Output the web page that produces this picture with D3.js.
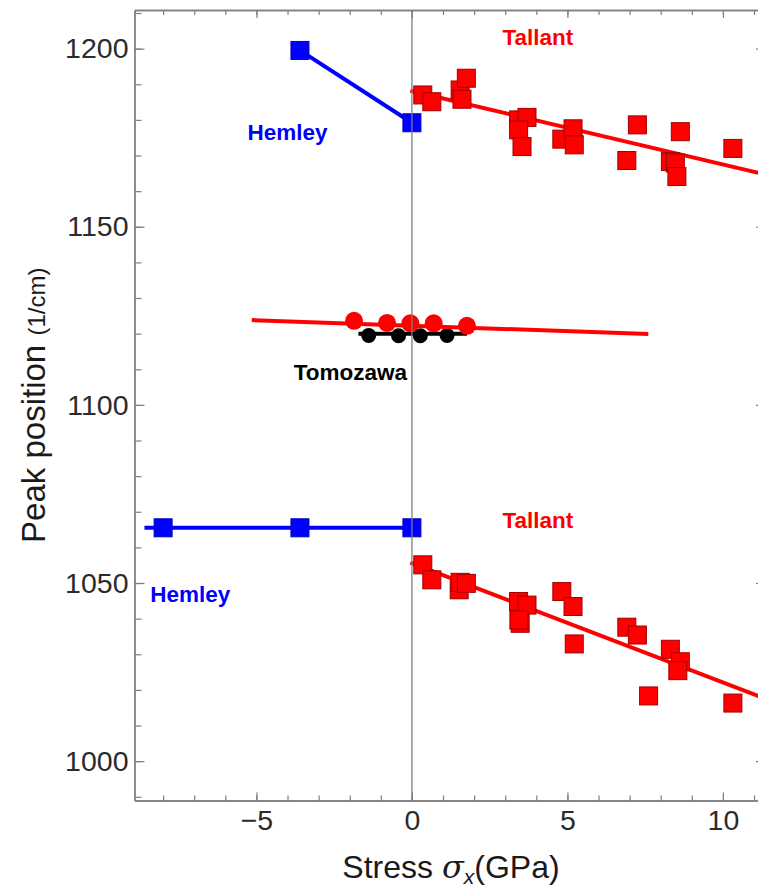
<!DOCTYPE html>
<html>
<head>
<meta charset="utf-8">
<script src="https://cdn.jsdelivr.net/npm/d3@7"></script>
<style>
  body { margin: 0; background: #fff; overflow: hidden; }
  text { font-family: "Liberation Sans", Arial, sans-serif; }
</style>
</head>
<body>
<div id="chart"></div>
<script>
// ---- data (stress in GPa, peak in 1/cm) ----
var hemleyHiX = [-3.6, 0];
var hemleyHiY = [1199.5, 1179.2];
var hemleyLoX = [-8.0, -3.6, 0];
var hemleyLoY = [1065.5, 1065.5, 1065.5];
var hemleyLoLineX = [-8.6, 0];
var hemleyLoLineY = [1065.5, 1065.5];

var tallantHiX = [0.35, 0.64, 1.55, 1.75, 1.61, 3.43, 3.70, 3.43, 3.54, 4.82, 5.18, 5.22, 7.25, 6.91, 8.63, 8.31, 8.47, 8.52, 10.32];
var tallantHiY = [1187.0, 1185.1, 1188.4, 1191.7, 1185.8, 1180.0, 1180.7, 1177.2, 1172.5, 1174.6, 1177.5, 1173.0, 1178.6, 1168.6, 1176.7, 1168.3, 1167.9, 1164.1, 1172.0];
var tallantHiFitX = [-0.05, 11.2];
var tallantHiFitY = [1188.2, 1165.0];

var tallantLoX = [0.35, 0.64, 1.52, 1.55, 1.75, 3.43, 3.70, 3.48, 3.44, 4.82, 5.18, 5.22, 6.91, 7.25, 8.31, 8.63, 8.55, 7.61, 10.32];
var tallantLoY = [1055.1, 1050.9, 1048.1, 1050.2, 1049.9, 1044.8, 1043.8, 1038.7, 1039.6, 1047.6, 1043.4, 1032.9, 1037.6, 1035.4, 1031.4, 1027.9, 1025.4, 1018.3, 1016.3];
var tallantLoFitX = [-0.05, 11.2];
var tallantLoFitY = [1055.7, 1018.1];

var tomoRedX = [-1.86, -0.80, -0.05, 0.70, 1.77];
var tomoRedY = [1123.6, 1123.0, 1122.9, 1122.9, 1122.2];
var tomoRedFitX = [-5.15, 7.6];
var tomoRedFitY = [1123.8, 1119.9];
var tomoBlackX = [-1.39, -0.43, 0.27, 1.13];
var tomoBlackY = [1119.5, 1119.4, 1119.4, 1119.5];
var tomoBlackFitX = [-1.72, 1.77];
var tomoBlackFitY = [1120.0, 1120.0];

var xTicks = [-5, 0, 5, 10];
var yTicks = [1000, 1050, 1100, 1150, 1200];

var labelText = ["Hemley", "Tallant", "Tomozawa", "Tallant", "Hemley"];
var labelX = [-4.0, 4.05, -1.98, 4.05, -7.13];
var labelY = [1176.6, 1203.2, 1109.3, 1067.7, 1046.9];
var labelColor = ["#0000ff", "#ff0000", "#000000", "#ff0000", "#0000ff"];

// ---- layout ----
var width = 758, height = 888;
// right frame edge falls just outside the picture, as in the original crop
var plotL = 134.5, plotR = 766, plotT = 10, plotB = 800.5;

var svg = d3.select("#chart").append("svg")
    .attr("width", width)
    .attr("height", height);

var x = d3.scaleLinear().domain([-8.92, 11.385]).range([plotL, plotR]);
var y = d3.scaleLinear().domain([988.95, 1210.85]).range([plotB, plotT]);

var frameColor = "#7f7f7f";

// minor ticks (every 1 GPa / 10 1/cm), no labels
var xMinor = d3.range(-8, 12, 1);
var yMinor = d3.range(990, 1211, 10);

function tickLayer(axis, tr) {
  var g = svg.append("g").attr("transform", tr).call(axis);
  g.select(".domain").attr("stroke", frameColor).attr("stroke-width", 1.3);
  g.selectAll(".tick line").attr("stroke", frameColor).attr("stroke-width", 1.2);
  g.selectAll("text").attr("fill", "#2b2b2b").attr("font-size", 28.5)
    .attr("font-family", "'Liberation Sans', Arial, sans-serif");
  return g;
}

// bottom
tickLayer(d3.axisBottom(x).tickValues(xMinor).tickSize(-5).tickSizeOuter(0).tickFormat(""), "translate(0," + plotB + ")");
tickLayer(d3.axisBottom(x).tickValues(xTicks).tickSize(-8).tickSizeOuter(0).tickPadding(9)
  .tickFormat(function(d) { return d < 0 ? "\u2212" + (-d) : d; }), "translate(0," + plotB + ")");
// top
tickLayer(d3.axisTop(x).tickValues(xMinor).tickSize(-5).tickSizeOuter(0).tickFormat(""), "translate(0," + plotT + ")");
tickLayer(d3.axisTop(x).tickValues(xTicks).tickSize(-8).tickSizeOuter(0).tickFormat(""), "translate(0," + plotT + ")");
// left
tickLayer(d3.axisLeft(y).tickValues(yMinor).tickSize(-7).tickSizeOuter(0).tickFormat(""), "translate(" + plotL + ",0)");
tickLayer(d3.axisLeft(y).tickValues(yTicks).tickSize(-10).tickSizeOuter(0).tickPadding(6).tickFormat(d3.format("d")), "translate(" + plotL + ",0)");
// right
tickLayer(d3.axisRight(y).tickValues(yMinor).tickSize(-7).tickSizeOuter(0).tickFormat(""), "translate(" + plotR + ",0)");
tickLayer(d3.axisRight(y).tickValues(yTicks).tickSize(-10).tickSizeOuter(0).tickFormat(""), "translate(" + plotR + ",0)");

var line = d3.line().x(function(d) { return x(d[0]); }).y(function(d) { return y(d[1]); });

function drawLine(xs, ys, color, w) {
  svg.append("path")
    .datum(d3.zip(xs, ys))
    .attr("d", line)
    .attr("fill", "none")
    .attr("stroke", color)
    .attr("stroke-width", w);
}

function drawSquares(xs, ys, fill, stroke, s) {
  svg.append("g").selectAll("rect")
    .data(d3.zip(xs, ys))
    .enter().append("rect")
      .attr("x", function(d) { return x(d[0]) - s / 2; })
      .attr("y", function(d) { return y(d[1]) - s / 2; })
      .attr("width", s)
      .attr("height", s)
      .attr("fill", fill)
      .attr("stroke", stroke)
      .attr("stroke-width", 1);
}

function drawDots(xs, ys, fill, r) {
  svg.append("g").selectAll("circle")
    .data(d3.zip(xs, ys))
    .enter().append("circle")
      .attr("cx", function(d) { return x(d[0]); })
      .attr("cy", function(d) { return y(d[1]); })
      .attr("r", r)
      .attr("fill", fill);
}

// Hemley
drawLine(hemleyHiX, hemleyHiY, "#0000ff", 4);
drawSquares(hemleyHiX, hemleyHiY, "#0000ff", "#0000c8", 18);
drawLine(hemleyLoLineX, hemleyLoLineY, "#0000ff", 4);
drawSquares(hemleyLoX, hemleyLoY, "#0000ff", "#0000c8", 18);

// Tallant
drawLine(tallantHiFitX, tallantHiFitY, "#ff0000", 4);
drawSquares(tallantHiX, tallantHiY, "#ff0000", "#a00000", 18);
drawLine(tallantLoFitX, tallantLoFitY, "#ff0000", 4);
drawSquares(tallantLoX, tallantLoY, "#ff0000", "#a00000", 18);

// Tomozawa
drawLine(tomoBlackFitX, tomoBlackFitY, "#000000", 4);
drawDots(tomoBlackX, tomoBlackY, "#000000", 7.5);
drawLine(tomoRedFitX, tomoRedFitY, "#ff0000", 4);
drawDots(tomoRedX, tomoRedY, "#ff0000", 9);

// zero-stress line
svg.append("line")
  .attr("x1", x(0)).attr("x2", x(0))
  .attr("y1", plotT).attr("y2", plotB)
  .attr("stroke", frameColor)
  .attr("stroke-width", 1.3);

// dataset labels
svg.append("g").selectAll("text")
  .data(d3.range(labelText.length))
  .enter().append("text")
    .attr("x", function(i) { return x(labelX[i]); })
    .attr("y", function(i) { return y(labelY[i]); })
    .attr("dy", "0.35em")
    .attr("text-anchor", "middle")
    .attr("font-weight", "bold")
    .attr("font-size", 22.5)
    .attr("fill", function(i) { return labelColor[i]; })
    .text(function(i) { return labelText[i]; });

// axis titles
var xt = svg.append("text")
  .attr("x", 451)
  .attr("y", 878)
  .attr("text-anchor", "middle")
  .attr("font-size", 32)
  .attr("fill", "#1a1a1a");
xt.append("tspan").text("Stress ");
xt.append("tspan").attr("font-style", "italic").attr("font-family", "'DejaVu Serif', serif").text("\u03c3");
xt.append("tspan").attr("font-style", "italic").attr("font-size", 21).attr("dy", 6).text("x");
xt.append("tspan").attr("dy", -6).text("(GPa)");

var yt = svg.append("text")
  .attr("transform", "translate(45," + ((plotT + plotB) / 2) + ") rotate(-90)")
  .attr("text-anchor", "middle")
  .attr("font-size", 33)
  .attr("fill", "#1a1a1a");
yt.append("tspan").text("Peak position ");
yt.append("tspan").attr("font-size", 24).text("(1/cm)");
</script>
</body>
</html>
